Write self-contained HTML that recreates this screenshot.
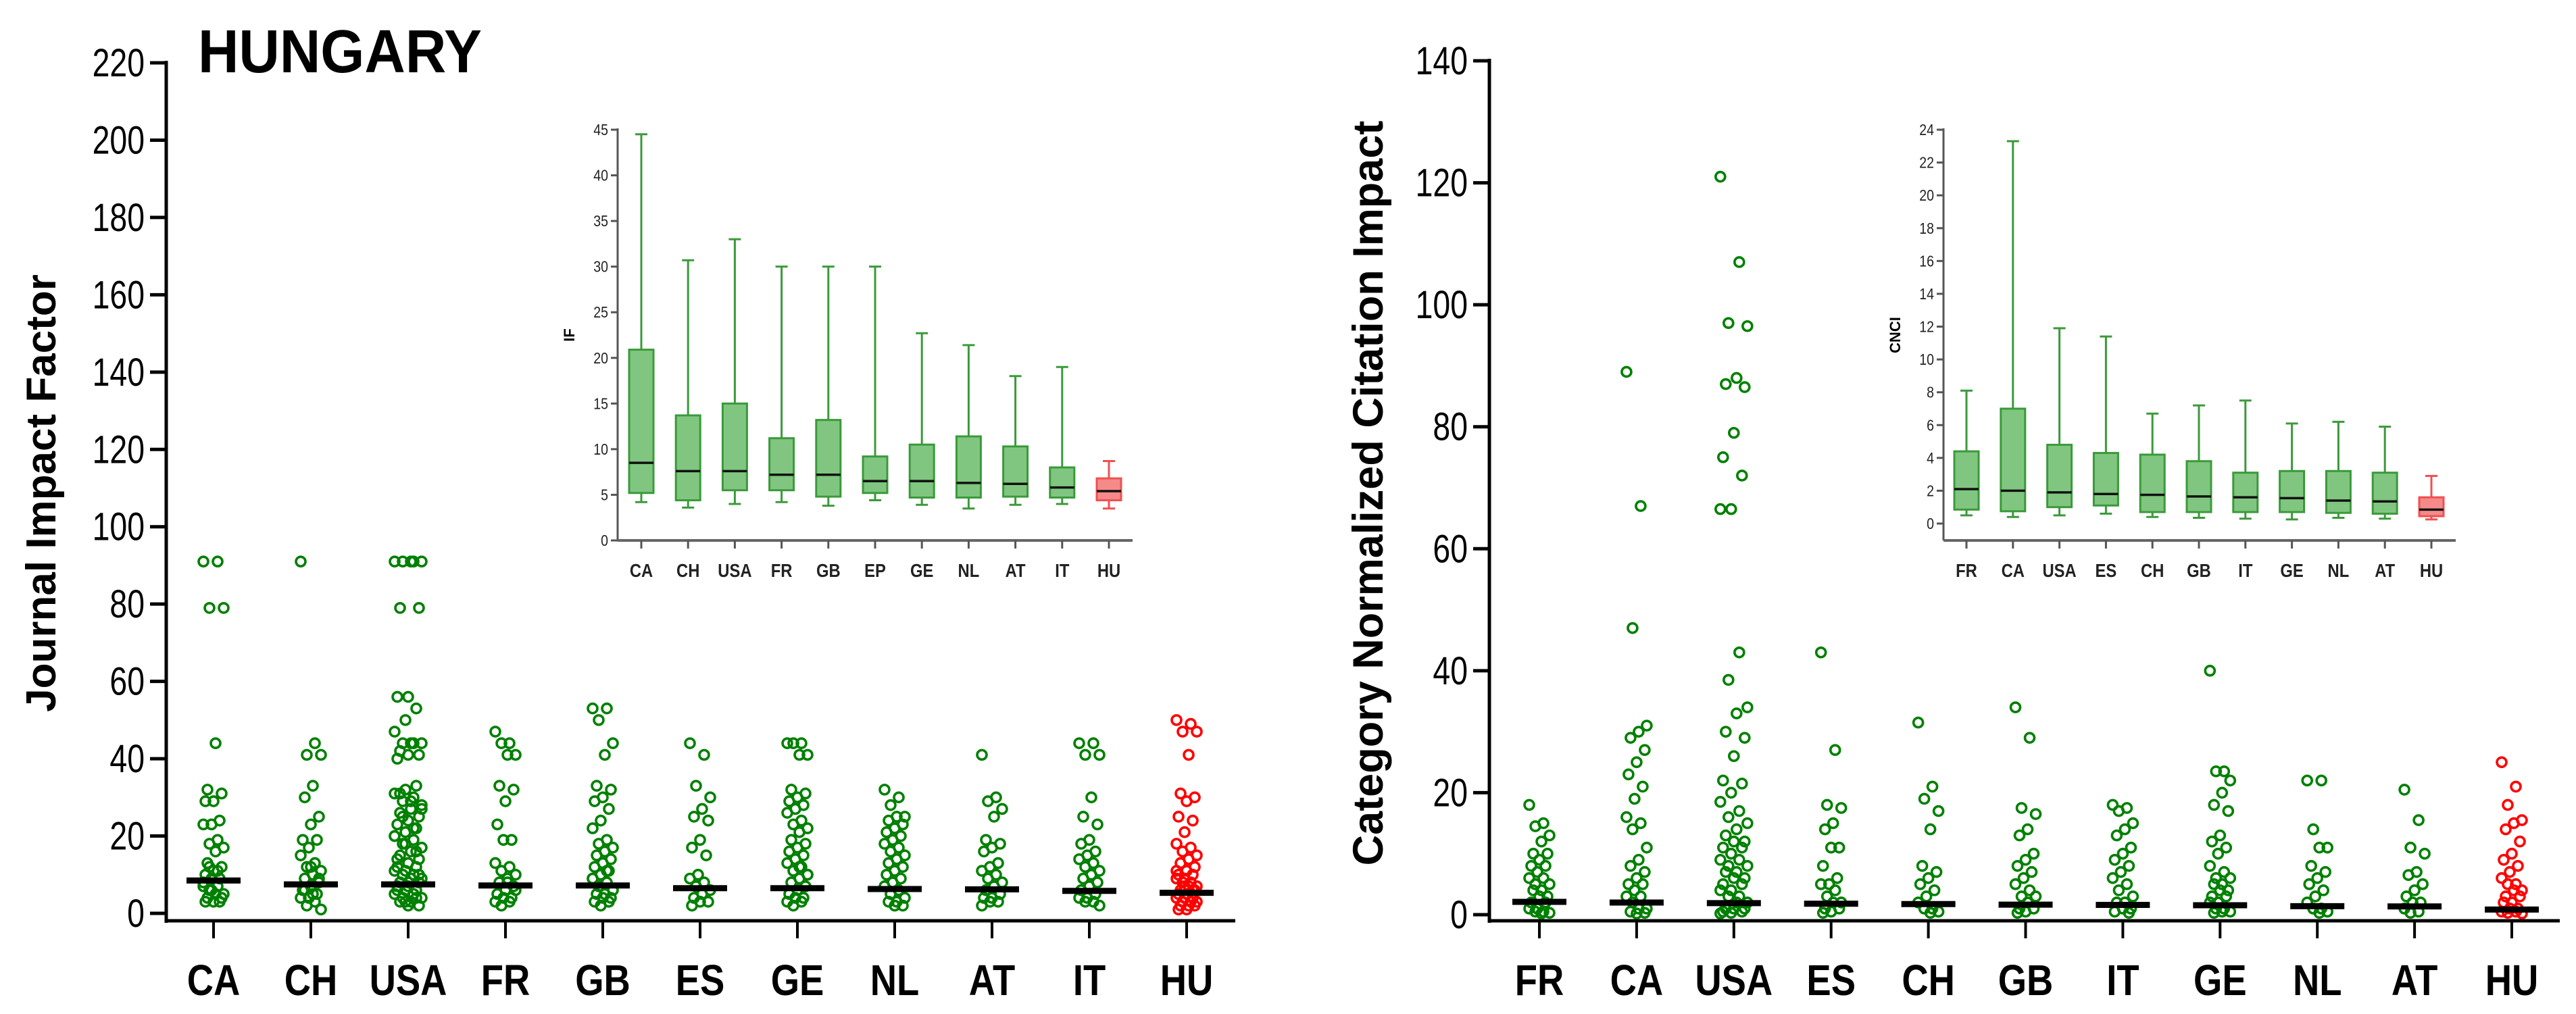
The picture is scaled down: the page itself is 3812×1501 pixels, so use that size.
<!DOCTYPE html>
<html><head><meta charset="utf-8"><style>
html,body{margin:0;padding:0;background:#fff;}
svg{display:block;font-family:"Liberation Sans",Arial,sans-serif;}
</style></head><body>
<svg id="c" width="3812" height="1501" viewBox="0 0 3812 1501" xmlns="http://www.w3.org/2000/svg">
<text x="293" y="107" font-size="90" font-weight="bold" transform="translate(293,0) scale(0.93,1) translate(-293,0)">HUNGARY</text>
<text transform="translate(82,730) rotate(-90)" text-anchor="middle" font-size="62" font-weight="bold">Journal Impact Factor</text>
<text transform="translate(2046,730) rotate(-90)" text-anchor="middle" font-size="63" font-weight="bold">Category Normalized Citation Impact</text>
<text transform="translate(850,496) rotate(-90)" text-anchor="middle" font-size="22" font-weight="bold">IF</text>
<text transform="translate(2812,496) rotate(-90)" text-anchor="middle" font-size="22" font-weight="bold">CNCI</text>
</svg>
<script>
// ---- Left main (Journal Impact Factor) ----
const leftCats = ["CA","CH","USA","FR","GB","ES","GE","NL","AT","IT","HU"];
const leftTicks = [0,20,40,60,80,100,120,140,160,180,200,220];
const leftMedians = [8.5,7.5,7.5,7.2,7.2,6.5,6.5,6.3,6.2,5.8,5.3];
const leftPtsCA = [91,91,79,79,44,32,31,29,29,24,23,23,19,18,17,16,13,12,11,10,9,9,8,7,6,5,5,4,4,3,3,3,6,7,11,12];
const leftPtsCH = [91,44,41,41,33,30,25,23,19,19,17,15,13,12,11,10,9,8,7,6,5,4,4,3,2,1,5,6,9,12];
const leftPtsUSA = [91,91,91,91,91,79,79,56,56,53,50,47,44,44,44,44,42,41,41,40,33,32,31,30,29,28,27,26,25,24,23,22,21,20,19,18,17,16,15,14,13,12,12,11,11,10,10,9,9,8,8,7,7,6,6,5,5,4,4,3,3,2,2,14,16,18,20,22,25,27,29,31,10,8,6,4,3];
const leftPtsFR = [47,44,44,41,41,33,32,29,23,19,19,13,12,11,10,9,8,7,6,5,4,4,3,3,2,6,8];
const leftPtsGB = [53,53,50,44,41,33,32,30,29,27,24,22,19,18,17,16,15,14,13,12,11,10,9,8,7,6,5,5,4,4,3,3,2,9,11];
const leftPtsES = [44,41,33,30,27,25,24,19,17,15,10,9,8,7,6,5,4,3,3,2];
const leftPtsGE = [44,44,44,41,41,32,31,30,29,28,27,26,24,23,22,21,19,18,17,16,15,14,13,12,11,10,9,8,7,6,5,4,4,3,3,2,10,12];
const leftPtsNL = [32,30,28,25,25,24,23,22,21,20,19,18,17,16,15,14,13,12,11,10,9,8,7,6,5,4,3,3,2,2];
const leftPtsAT = [41,30,29,27,25,19,18,17,16,13,12,11,10,9,8,7,6,5,4,4,3,3,2];
const leftPtsIT = [44,44,41,41,30,25,23,19,18,16,15,14,13,12,11,10,9,8,7,6,5,4,4,3,3,2];
const leftPtsHU = [50,49,47,47,41,31,30,29,25,24,21,18,17,16,15,14,13,12,11,10,10,9,9,8,8,7,7,6,6,5,5,4,4,4,3,3,3,2,2,2,1,1,6,7,11];
// ---- Left inset (IF boxes) ----
const lInCats = ["CA","CH","USA","FR","GB","EP","GE","NL","AT","IT","HU"];
const lInTicks = [0,5,10,15,20,25,30,35,40,45];
const lInMin = [4.2,3.6,4.0,4.2,3.8,4.4,3.9,3.5,3.9,4.0,3.5];
const lInQ1 = [5.2,4.4,5.5,5.5,4.8,5.2,4.7,4.7,4.8,4.7,4.4];
const lInMed = [8.5,7.6,7.6,7.2,7.2,6.5,6.5,6.3,6.2,5.8,5.4];
const lInQ3 = [20.9,13.7,15.0,11.2,13.2,9.2,10.5,11.4,10.3,8.0,6.8];
const lInMax = [44.5,30.7,33.0,30.0,30.0,30.0,22.7,21.4,18.0,19.0,8.7];
// ---- Right main (CNCI) ----
const rightCats = ["FR","CA","USA","ES","CH","GB","IT","GE","NL","AT","HU"];
const rightTicks = [0,20,40,60,80,100,120,140];
const rightMedians = [2.1,2.0,1.9,1.8,1.75,1.65,1.6,1.55,1.4,1.35,0.85];
const rightPtsFR = [18,15,14.5,13,12,10,10,9,8,8,7,6,6,5,5,4,4,3,3,2,2,1,1,0.5,0.5,0.3,0.2];
const rightPtsCA = [89,67,47,31,30,29,27,25,23,21,19,16,15,14,11,9,8,7,6,5,5,4,3,3,2,1,1,0.5,0.3,0.2];
const rightPtsUSA = [121,107,97,96.5,88,87,86.5,79,75,72,66.5,66.5,43,38.5,34,33,30,29,26,22,21.5,20,18.5,17,16,15,14,13,12,12,11,11,10,9,9,8,8,7,7,6,6,5,5,4,4,3,3,2,2,1,1,1,0.5,0.5,0.3,0.2];
const rightPtsES = [43,27,18,17.5,15,14,11,11,8,6,5,5,4,3,2,2,1,1,0.5,0.3];
const rightPtsCH = [31.5,21,19,17,14,8,7,6,5,4,3,2,1,1,0.5,0.3];
const rightPtsGB = [34,29,17.5,16.5,14,13,10,9,8,7,6,5,4,3,3,2,1,1,0.5,0.3];
const rightPtsIT = [18,17.5,17,15,14,13,11,10,9,8,7,6,5,4,3,2,2,1,1,0.5,0.3];
const rightPtsGE = [40,23.5,23.5,22,20,18,17,13,12,11,10,8,7,6,6,5,5,4,4,3,3,2,2,1,1,0.5,0.5,0.3];
const rightPtsNL = [22,22,14,11,11,8,7,6,5,4,3,2,1,1,0.5,0.3];
const rightPtsAT = [20.5,15.5,11,10,7,6.5,5,4,3,2,2,1,0.5,0.3];
const rightPtsHU = [25,21,18,15.5,15,14,12,10,9,8,7,6,5,5,4,4,3,3,2,2,1,1,0.5,0.5,0.3,0.2];
// ---- Right inset (CNCI boxes) ----
const rInCats = ["FR","CA","USA","ES","CH","GB","IT","GE","NL","AT","HU"];
const rInTicks = [0,2,4,6,8,10,12,14,16,18,20,22,24];
const rInMin = [0.5,0.4,0.5,0.6,0.4,0.35,0.3,0.25,0.35,0.3,0.25];
const rInQ1 = [0.85,0.75,1.0,1.1,0.7,0.7,0.7,0.7,0.65,0.6,0.45];
const rInMed = [2.1,2.0,1.9,1.8,1.75,1.65,1.6,1.55,1.4,1.35,0.85];
const rInQ3 = [4.4,7.0,4.8,4.3,4.2,3.8,3.1,3.2,3.2,3.1,1.6];
const rInMax = [8.1,23.3,11.9,11.4,6.7,7.2,7.5,6.1,6.2,5.9,2.9];

const svg = document.getElementById('c');
const NS = "http://www.w3.org/2000/svg";
function mk(tag, attrs, parent){
  const e = document.createElementNS(NS, tag);
  for (const k in attrs) e.setAttribute(k, attrs[k]);
  (parent||svg).appendChild(e);
  return e;
}
// condensed text: place at (x,y) with horizontal squeeze
function ctext(parent, x, y, sx, attrs, str){
  const t = mk('text', Object.assign({x:0, y:0, transform:'translate(' + x + ',' + y + ') scale(' + sx + ',1)'}, attrs), parent);
  t.textContent = str;
  return t;
}

function mainChart(o){
  const g = mk('g', {});
  
  
  const y = v => o.y0 - (v / o.vmax) * (o.y0 - o.ytop);
  const x = i => o.x0 + i * o.dx;
  const ya = mk('line', {x1:o.ax, y1:o.ytop-3, x2:o.ax, y2:o.axisY+3, stroke:'#000','stroke-width':5}, g);
  
  
  const xa = mk('line', {x1:o.ax-2, y1:o.axisY, x2:o.xend, y2:o.axisY, stroke:'#000','stroke-width':5}, g);
  
  
  o.ticks.forEach(t => {
    mk('line', {x1:o.ax-24, y1:y(t), x2:o.ax, y2:y(t), stroke:'#000','stroke-width':5}, g);
    const tl = ctext(g, o.ax-32, y(t)+20, 0.8, {'text-anchor':'end','font-size':58}, String(t));
    
    
  });
  o.cats.forEach((c, i) => {
    mk('line', {x1:x(i), y1:o.axisY, x2:x(i), y2:o.axisY+26, stroke:'#000','stroke-width':4}, g);
    const cl = ctext(g, x(i), o.axisY+110, 0.85, {'text-anchor':'middle','font-size':64,'font-weight':'bold'}, c);
    
    
    const col = c === 'HU' ? '#ff0000' : '#008000';
    const pts = o.pts[i];
    const spread = c === 'USA' ? 20 : 15;
    pts.forEach((v, j) => {
      const off = (((j * 7) % 11) - 5) / 5 * spread;
      const p = mk('circle', {cx:x(i)+off, cy:y(v), r:7, fill:'none', stroke:col, 'stroke-width':3.6}, g);
      
      
    });
    const m = mk('line', {x1:x(i)-40, y1:y(o.med[i]), x2:x(i)+40, y2:y(o.med[i]), stroke:'#000','stroke-width':9}, g);
    
    
  });
}

function inset(o){
  const g = mk('g', {});
  
  
  const y = v => o.y0 - (v / o.vmax) * (o.y0 - o.ytop);
  const x = i => o.x0 + i * o.dx;
  const ya = mk('line', {x1:o.ax, y1:o.ytop-2, x2:o.ax, y2:o.axisY, stroke:'#555','stroke-width':3}, g);
  
  
  const xa = mk('line', {x1:o.ax, y1:o.axisY, x2:o.xend, y2:o.axisY, stroke:'#666','stroke-width':4}, g);
  
  
  o.ticks.forEach(t => {
    mk('line', {x1:o.ax-10, y1:y(t), x2:o.ax, y2:y(t), stroke:'#555','stroke-width':3}, g);
    const tl = ctext(g, o.ax-14, y(t)+8, 0.85, {'text-anchor':'end','font-size':23,fill:'#222'}, String(t));
    
    
  });
  o.cats.forEach((c, i) => {
    mk('line', {x1:x(i), y1:o.axisY, x2:x(i), y2:o.axisY+12, stroke:'#555','stroke-width':3}, g);
    const cl = ctext(g, x(i), o.axisY+54, 0.85, {'text-anchor':'middle','font-size':28,'font-weight':'bold',fill:'#222'}, c);
    
    
    const red = c === 'HU';
    const st = red ? '#f05050' : '#3a9a3a', fill = red ? '#f58a8a' : '#80c680';
    const w = 18;
    mk('line', {x1:x(i), y1:y(o.max[i]), x2:x(i), y2:y(o.q3[i]), stroke:st,'stroke-width':3}, g);
    mk('line', {x1:x(i), y1:y(o.q1[i]), x2:x(i), y2:y(o.min[i]), stroke:st,'stroke-width':3}, g);
    mk('line', {x1:x(i)-9, y1:y(o.max[i]), x2:x(i)+9, y2:y(o.max[i]), stroke:st,'stroke-width':3}, g);
    mk('line', {x1:x(i)-9, y1:y(o.min[i]), x2:x(i)+9, y2:y(o.min[i]), stroke:st,'stroke-width':3}, g);
    const b = mk('rect', {x:x(i)-w, y:y(o.q3[i]), width:2*w, height:y(o.q1[i])-y(o.q3[i]), fill:fill, stroke:st,'stroke-width':3}, g);
    
    
    const m = mk('line', {x1:x(i)-w, y1:y(o.med[i]), x2:x(i)+w, y2:y(o.med[i]), stroke:'#111','stroke-width':3.5}, g);
    
    
  });
}

mainChart({name:'left-strip-chart', cats:leftCats, ticks:leftTicks, med:leftMedians,
  pts:[leftPtsCA,leftPtsCH,leftPtsUSA,leftPtsFR,leftPtsGB,leftPtsES,leftPtsGE,leftPtsNL,leftPtsAT,leftPtsIT,leftPtsHU],
  vmax:220, y0:1352, ytop:93, ax:246, axisY:1363, xend:1828, x0:316, dx:144});
mainChart({name:'right-strip-chart', cats:rightCats, ticks:rightTicks, med:rightMedians,
  pts:[rightPtsFR,rightPtsCA,rightPtsUSA,rightPtsES,rightPtsCH,rightPtsGB,rightPtsIT,rightPtsGE,rightPtsNL,rightPtsAT,rightPtsHU],
  vmax:140, y0:1354, ytop:90, ax:2204, axisY:1363, xend:3788, x0:2278, dx:143.9});
inset({name:'left-inset-boxplot', cats:lInCats, ticks:lInTicks, min:lInMin, q1:lInQ1, med:lInMed, q3:lInQ3, max:lInMax,
  vmax:45, y0:800, ytop:192, ax:914, axisY:800, xend:1676, x0:949, dx:69.2});
inset({name:'right-inset-boxplot', cats:rInCats, ticks:rInTicks, min:rInMin, q1:rInQ1, med:rInMed, q3:rInQ3, max:rInMax,
  vmax:24, y0:775, ytop:192, ax:2876, axisY:800, xend:3634, x0:2910, dx:68.8});
</script>
</body></html>
